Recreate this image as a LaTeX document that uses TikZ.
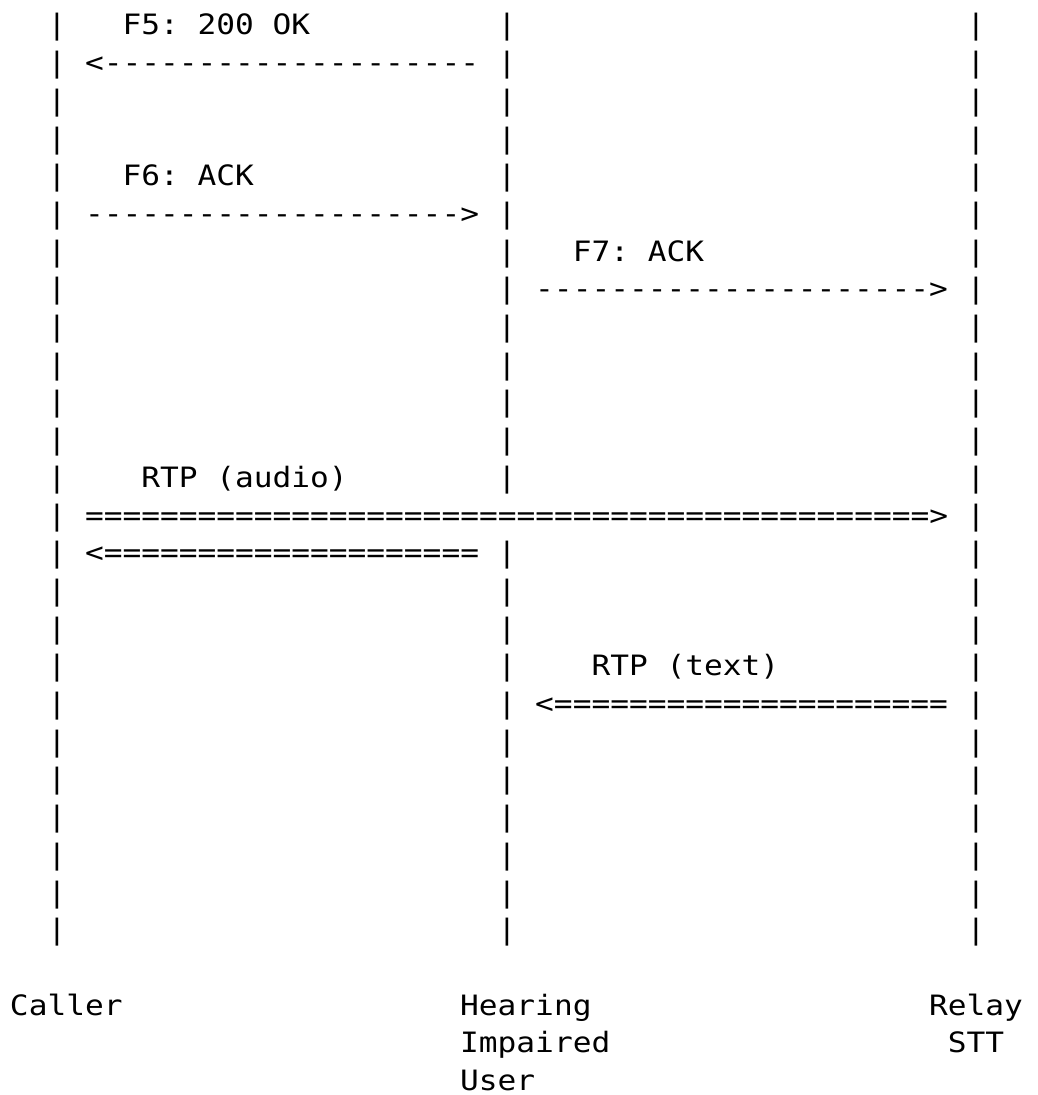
\documentclass[tikz,border=0pt]{standalone}
\usepackage{fontspec}
\setmonofont[FakeStretch=1.1114]{DejaVu Sans Mono}
\usepackage{tikz}
\tikzset{txt/.style={inner sep=0pt, outer sep=0pt, anchor=base west, font=\fontsize{9}{11}\ttfamily\frenchspacing}}
\tikzset{bar/.style={txt}}

\begin{document}
\begin{tikzpicture}[x=6.0205pt, y=-12.1pt]
        \useasboundingbox (-0.533, 0.072) rectangle (54.77, 29.117);
        % lifelines
        \foreach \r in {1,...,25} {
            \node [style=bar] (caller\r) at (2, \r) {|};
            \node [style=bar] (relay\r) at (51, \r) {|};
        }
        \foreach \r in {1,...,13,15,16,...,25}
            \node [style=bar] (user\r) at (26, \r) {|};
        % messages
        \node [style=txt] (0) at (6, 1) {F5: 200 OK};
        \node [style=txt] (1) at (4, 2) {<--------------------};
        \node [style=txt] (2) at (6, 5) {F6: ACK};
        \node [style=txt] (3) at (4, 6) {-------------------->};
        \node [style=txt] (4) at (30, 7) {F7: ACK};
        \node [style=txt] (5) at (28, 8) {--------------------->};
        \node [style=txt] (6) at (7, 13) {RTP (audio)};
        \node [style=txt] (7) at (4, 14) {=============================================>};
        \node [style=txt] (8) at (4, 15) {<====================};
        \node [style=txt] (9) at (31, 18) {RTP (text)};
        \node [style=txt] (10) at (28, 19) {<=====================};
        % participants
        \node [style=txt] (11) at (0, 27) {Caller};
        \node [style=txt] (12) at (24, 27) {Hearing};
        \node [style=txt] (13) at (24, 28) {Impaired};
        \node [style=txt] (14) at (24, 29) {User};
        \node [style=txt] (15) at (49, 27) {Relay};
        \node [style=txt] (16) at (50, 28) {STT};
\end{tikzpicture}
\end{document}
